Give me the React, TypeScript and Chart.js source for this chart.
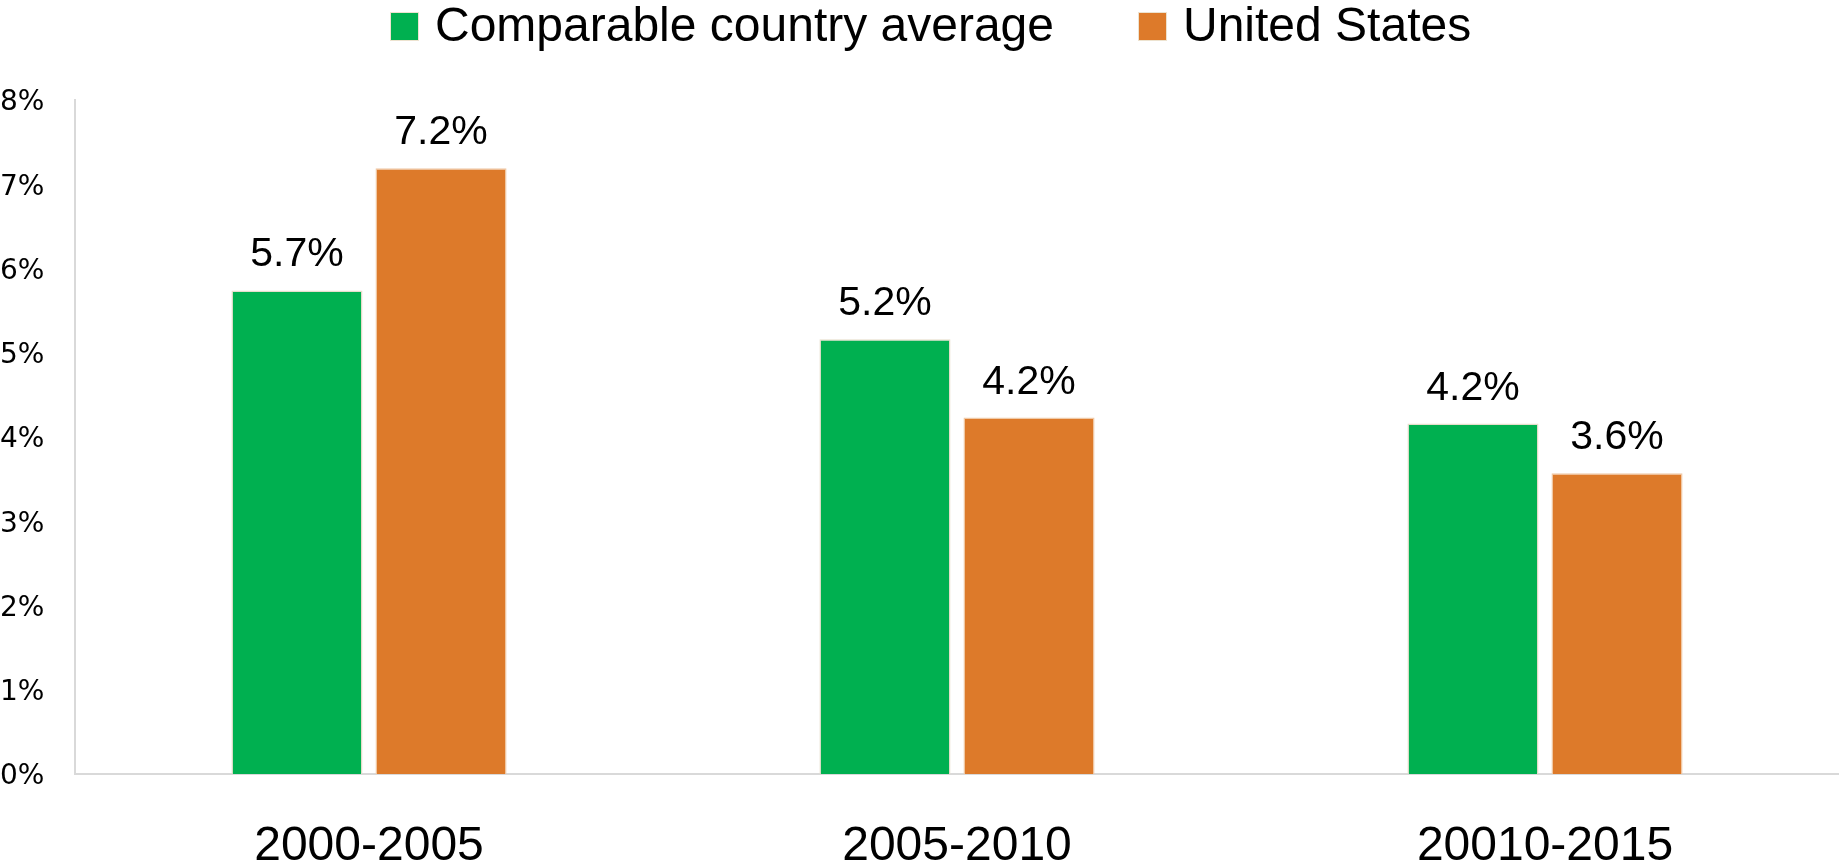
import React, { useEffect, useRef } from "react";
import { Chart, registerables } from "chart.js";

Chart.register(...registerables);

const categories = ["2000-2005", "2005-2010", "20010-2015"];
const comparableValues = [5.74, 5.16, 4.16];
const usValues = [7.19, 4.23, 3.57];
const seriesNames = ["Comparable country average", "United States"];
const yTicks = [0, 1, 2, 3, 4, 5, 6, 7, 8];

const GREEN = "#00B050";
const ORANGE = "#DD7A2A";

const valueLabelPlugin = {
  id: "valueLabels",
  afterDatasetsDraw(chart: any) {
    const ctx = chart.ctx;
    ctx.save();
    ctx.font = "41px 'Liberation Sans'";
    ctx.fillStyle = "#000";
    ctx.textAlign = "center";
    ctx.textBaseline = "alphabetic";
    chart.data.datasets.forEach((ds: any, i: number) => {
      const meta = chart.getDatasetMeta(i);
      meta.data.forEach((el: any, j: number) => {
        const v = ds.data[j];
        ctx.fillText(v.toFixed(1) + "%", el.x, el.y - 24);
      });
    });
    ctx.restore();
  },
};

const legendPlugin = {
  id: "customLegend",
  afterDraw(chart: any) {
    const ctx = chart.ctx;
    ctx.save();
    ctx.font = "48px 'Liberation Sans'";
    ctx.textBaseline = "alphabetic";
    ctx.textAlign = "left";
    let x = 390;
    const box = 29;
    chart.data.datasets.forEach((ds: any) => {
      ctx.fillStyle = ds.backgroundColor;
      ctx.fillRect(x, 12, box, box);
      ctx.strokeStyle = "#EDE3D0";
      ctx.lineWidth = 1;
      ctx.strokeRect(x + 0.5, 12.5, box - 1, box - 1);
      ctx.fillStyle = "#000";
      const tx = x + box + 16;
      ctx.fillText(ds.label, tx, 41);
      x = tx + ctx.measureText(ds.label).width + 84;
    });
    ctx.restore();
  },
};

export default function App() {
  const ref = useRef<HTMLCanvasElement | null>(null);
  useEffect(() => {
    if (!ref.current) return;
    const chart = new Chart(ref.current, {
      type: "bar",
      data: {
        labels: categories,
        datasets: [
          {
            label: seriesNames[0],
            data: comparableValues,
            backgroundColor: GREEN,
            borderColor: "#E6DDCB",
            borderWidth: 1.5,
            categoryPercentage: 0.49,
            barPercentage: 0.91,
          },
          {
            label: seriesNames[1],
            data: usValues,
            backgroundColor: ORANGE,
            borderColor: "#F0C9A6",
            borderWidth: 1.5,
            categoryPercentage: 0.49,
            barPercentage: 0.91,
          },
        ],
      },
      options: {
        responsive: false,
        animation: false,
        devicePixelRatio: 1,
        layout: { padding: { top: 100, left: 0, right: 0, bottom: 0 } },
        plugins: {
          legend: { display: false },
          tooltip: { enabled: false },
        },
        scales: {
          x: {
            grid: { display: false, drawTicks: false },
            border: { display: true, color: "#D9D9D9", width: 2 },
            ticks: {
              color: "#000",
              font: { family: "'Liberation Sans'", size: 48 },
              padding: 44,
            },
            afterFit(scale: any) {
              scale.height = 93;
            },
          },
          y: {
            min: 0,
            max: 8,
            afterBuildTicks(scale: any) {
              scale.ticks = yTicks.map((v) => ({ value: v }));
            },
            grid: { display: false, drawTicks: false },
            border: { display: true, color: "#D9D9D9", width: 2 },
            ticks: {
              color: "#000",
              font: { family: "'DejaVu Sans'", size: 28 },
              crossAlign: "far",
              padding: 0,
              labelOffset: 3,
              callback: (v: any) => v + "%",
            },
            afterFit(scale: any) {
              scale.width = 75;
            },
          },
        },
      },
      plugins: [valueLabelPlugin, legendPlugin],
    });
    return () => chart.destroy();
  }, []);
  return (
    <div style={{ position: "fixed", left: 0, top: 0, width: 1839, height: 867, background: "#fff" }}>
      <canvas ref={ref} width={1839} height={867} style={{ display: "block" }} />
    </div>
  );
}
